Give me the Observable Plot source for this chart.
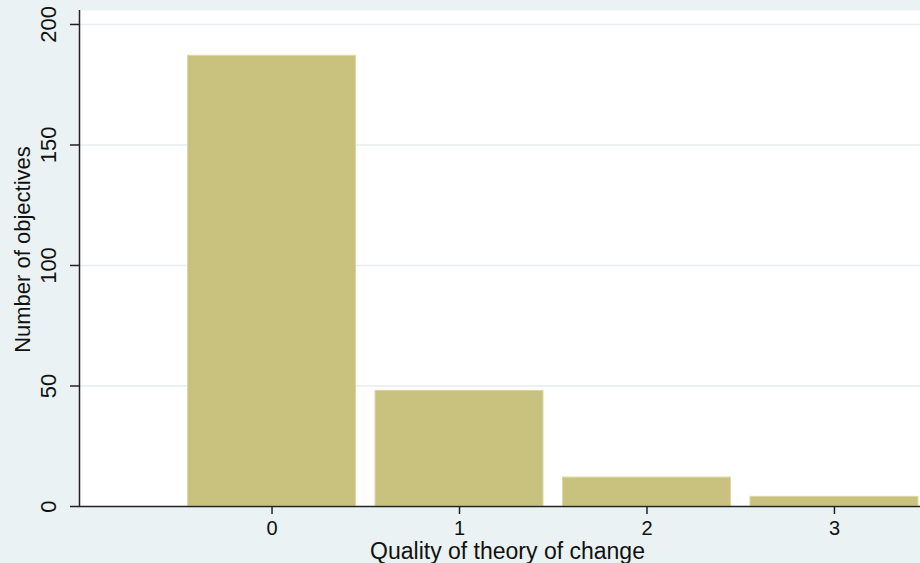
<!DOCTYPE html>
<html>
<head>
<meta charset="utf-8">
<script src="https://cdn.jsdelivr.net/npm/d3@7"></script>
<script src="https://cdn.jsdelivr.net/npm/@observablehq/plot@0.6"></script>
<style>
  html, body { margin: 0; padding: 0; background: #eaf2f3; }
  #chart svg { display: block; }
</style>
</head>
<body>
<div id="chart"></div>
<script>
const quality = [0, 1, 2, 3];
const counts = [187, 48, 12, 4];
const xTicks = [0, 1, 2, 3];
const yTicks = [0, 50, 100, 150, 200];
const xTitle = "Quality of theory of change";
const yTitle = "Number of objectives";

const data = quality.map((q, i) => ({q, n: counts[i]}));
const xDomain = [-1.027, 3.459];
const halfW = 0.448;
const font = "Liberation Sans, Arial, sans-serif";

const chart = Plot.plot({
  width: 920,
  height: 563,
  marginLeft: 79,
  marginRight: 0,
  marginTop: 10,
  marginBottom: 57,
  style: {background: "#eaf2f3", fontFamily: font, fontSize: "22px", color: "#111"},
  x: {domain: xDomain, axis: null},
  y: {domain: [0, 205.8], axis: null},
  marks: [
    Plot.frame({fill: "white", stroke: null}),
    Plot.gridY(yTicks.filter(d => d > 0), {stroke: "#e6eef1", strokeOpacity: 1, strokeWidth: 1.5}),
    Plot.rect(data, {
      x1: d => d.q - halfW, x2: d => d.q + halfW,
      y1: 0, y2: "n",
      fill: "#c9c27f", stroke: "#dcd7a6", strokeWidth: 1
    }),
    Plot.ruleX([xDomain[0]], {stroke: "#222", strokeWidth: 1.5}),
    Plot.ruleY([0], {stroke: "#222", strokeWidth: 1.5}),
    Plot.axisY({ticks: yTicks, tickSize: 9, tickFormat: () => "", label: null, stroke: "#222", strokeWidth: 1.5}),
    Plot.axisX({ticks: xTicks, tickSize: 8, tickFormat: () => "", label: null, stroke: "#222", strokeWidth: 1.5}),
    Plot.text(yTicks, {
      y: d => d, text: d => String(d), frameAnchor: "left", dx: -31,
      rotate: -90, textAnchor: "middle", lineAnchor: "middle",
      fontSize: 22, fill: "#111", fontFamily: font
    }),
    Plot.text(xTicks, {
      x: d => d, text: d => String(d), frameAnchor: "bottom", dy: 28,
      textAnchor: "middle", lineAnchor: "bottom",
      fontSize: 20, fill: "#111", fontFamily: font
    }),
    Plot.text([xTitle], {
      text: d => d, frameAnchor: "bottom", dx: 7.5, dy: 52.5,
      textAnchor: "middle", lineAnchor: "bottom",
      fontSize: 23, fill: "#111", fontFamily: font
    }),
    Plot.text([yTitle], {
      text: d => d, frameAnchor: "left", dx: -57, dy: -9,
      rotate: -90, textAnchor: "middle", lineAnchor: "middle",
      fontSize: 22, fill: "#111", fontFamily: font
    })
  ]
});
document.getElementById("chart").append(chart);
</script>
</body>
</html>
